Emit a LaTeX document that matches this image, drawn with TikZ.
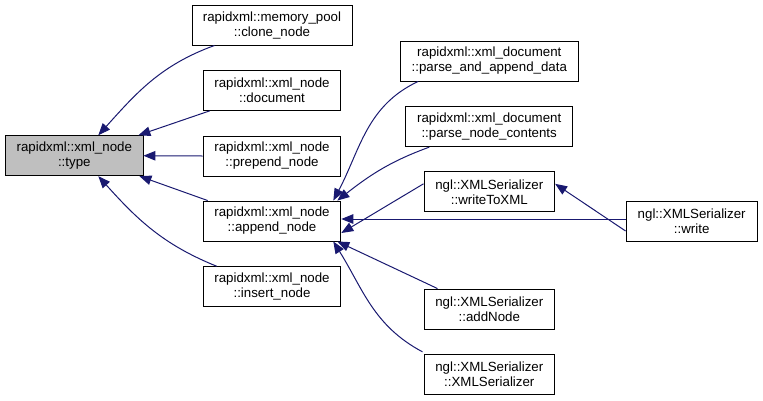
\documentclass[tikz,border=0pt]{standalone}
\usepackage{fontspec}
\setmainfont{Liberation Sans}
\usetikzlibrary{arrows.meta}
\definecolor{edgeblue}{HTML}{191970}
\definecolor{boxgray}{HTML}{BFBFBF}
\begin{document}
\begin{tikzpicture}[x=1pt,y=-1pt,
  fn/.style={draw=black,line width=0.9pt,fill=white,rectangle,inner sep=0pt,
    minimum height=40pt,align=center,font=\fontsize{13.3}{15}\selectfont},
  edge/.style={draw=edgeblue,line width=1pt,-{Triangle[length=12pt,width=9.5pt]}}]
\useasboundingbox (0,0) rectangle (763,400);
\node[fn,fill=boxgray,minimum width=137.3pt] (type) at (74.3,155.7) {rapidxml::xml\_node\\::type};
\node[fn,minimum width=160pt] (clone) at (272,25) {rapidxml::memory\_pool\\::clone\_node};
\node[fn,minimum width=137.7pt] (document) at (272,90.4) {rapidxml::xml\_node\\::document};
\node[fn,minimum width=137.7pt] (prepend) at (272,156) {rapidxml::xml\_node\\::prepend\_node};
\node[fn,minimum width=137.7pt] (append) at (272,221) {rapidxml::xml\_node\\::append\_node};
\node[fn,minimum width=137.7pt] (insert) at (272,286.7) {rapidxml::xml\_node\\::insert\_node};
\node[fn,minimum width=177.3pt] (pad) at (489.3,61) {rapidxml::xml\_document\\::parse\_and\_append\_data};
\node[fn,minimum width=167pt] (pnc) at (489.2,126.7) {rapidxml::xml\_document\\::parse\_node\_contents};
\node[fn,minimum width=130.7pt] (wtx) at (489.3,191.8) {ngl::XMLSerializer\\::writeToXML};
\node[fn,minimum width=131.3pt] (write) at (691.7,221) {ngl::XMLSerializer\\::write};
\node[fn,minimum width=130.7pt] (addnode) at (489.3,309) {ngl::XMLSerializer\\::addNode};
\node[fn,minimum width=130.7pt] (ctor) at (489.3,374.3) {ngl::XMLSerializer\\::XMLSerializer};
% edges into type
\draw[edge] ([xshift=23pt]clone.south west) to[out=200,in=48] ([xshift=24pt]type.north);
\draw[edge] ([xshift=7pt]document.south west) -- ([xshift=-5pt]type.north east);
\draw[edge] (prepend.west) -- (type.east);
\draw[edge] ([xshift=5pt]append.north west) -- ([xshift=-4pt]type.south east);
\draw[edge] ([xshift=14pt]insert.north west) to[out=158,in=-48] ([xshift=24pt]type.south);
% edges into append
\draw[edge] ([xshift=18pt]pad.south west) to[out=205,in=62] ([xshift=-8pt]append.north east);
\draw[edge] ([xshift=24pt]pnc.south west) to[out=200,in=38] ([xshift=-4pt]append.north east);
\draw[edge] ([yshift=8pt]wtx.west) -- ([yshift=-12pt]append.east);
\draw[edge] ([yshift=2pt]write.west) -- ([yshift=2pt]append.east);
\draw[edge] ([xshift=14pt]addnode.north west) -- ([xshift=-4pt]append.south east);
\draw[edge] ([xshift=-1pt,yshift=2pt]ctor.north west) to[out=152,in=-58] ([xshift=-8pt]append.south east);
% write -> writeToXML
\draw[edge] ([yshift=-10pt]write.west) -- ([yshift=8pt]wtx.east);
\end{tikzpicture}
\end{document}
